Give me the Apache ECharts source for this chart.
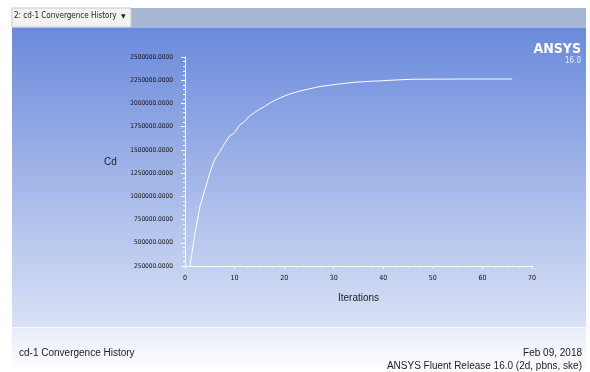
<!DOCTYPE html>
<html>
<head>
<meta charset="utf-8">
<script src="https://cdn.jsdelivr.net/npm/echarts@6/dist/echarts.min.js"></script>
<style>
html,body{margin:0;padding:0;background:#fff;}
#c{width:590px;height:372px;}
</style>
</head>
<body>
<div id="c"></div>
<script>
// ---- data ----
const iterations = [1,2,3,4,5,6,7,8,9,10,11,12,13,14,15,16,17,18,19,20,21,22,23,24,25,26,27,28,29,30,31,32,33,34,35,36,37,38,39,40,41,42,43,44,45,46,47,48,49,50,51,52,53,54,55,56,57,58,59,60,61,62,63,64,65,66];
const cdValues = [250000,600000,890000,1070000,1250000,1400000,1480000,1570000,1650000,1685000,
  1765000,1805000,1865000,1900000,1937000,1965000,2000000,2030000,2055000,2078000,
  2099000,2115000,2131000,2144000,2156000,2168000,2180000,2188000,2195000,2202000,
  2209000,2215000,2220000,2226000,2231000,2234000,2237000,2240000,2242000,2245000,
  2248000,2251000,2254000,2256000,2258000,2260000,2261000,2261000,2261000,2262000,
  2262000,2262000,2262000,2262000,2263000,2263000,2263000,2263000,2263000,2263000,
  2263000,2263000,2263000,2263000,2263000,2263000];
const xTicks = [0,10,20,30,40,50,60,70];
const yMin = 250000, yMax = 2500000, yStep = 250000;
const tabTitle = '2: cd-1 Convergence History';
const footerLeft = 'cd-1 Convergence History';
const footerDate = 'Feb 09, 2018';
const footerRelease = 'ANSYS Fluent Release 16.0 (2d, pbns, ske)';

const chart = echarts.init(document.getElementById('c'), null, {renderer:'canvas'});
const seriesData = iterations.map((it,i)=>[it, cdValues[i]]);

chart.setOption({
  animation:false,
  backgroundColor:'#ffffff',
  graphic:[
    // header bar
    {type:'rect', z:-10, shape:{x:12,y:8,width:574,height:20}, style:{fill:'#a6b8d4'}},
    // tab
    {type:'rect', z:-9, shape:{x:12,y:8,width:119,height:19}, style:{fill:'#f3f3f3', stroke:'#c9c9c9', lineWidth:1}},
    {type:'text', z:-8, left:14, top:12, style:{text:tabTitle, font:'8px "DejaVu Sans Condensed","Liberation Sans Narrow","Liberation Sans"', fill:'#222'}},
    {type:'text', z:-8, left:121, top:13, style:{text:'\u25BC', font:'6px "DejaVu Sans"', fill:'#222'}},
    // blue panel
    {type:'rect', z:-10, shape:{x:12,y:28,width:574,height:299},
      style:{fill:new echarts.graphic.LinearGradient(0,0,0,1,[{offset:0,color:'#6a8adb'},{offset:1,color:'#d9e1f5'}])}},
    {type:'rect', z:-10, shape:{x:12,y:327,width:574,height:1}, style:{fill:'#f6f8fd'}},
    // footer
    {type:'rect', z:-10, shape:{x:12,y:328,width:574,height:44},
      style:{fill:new echarts.graphic.LinearGradient(0,0,0,1,[{offset:0,color:'#e6ecf8'},{offset:1,color:'#ffffff'}])}},
    {type:'text', z:-8, left:19, top:348, style:{text:footerLeft, font:'10px "Liberation Sans"', fill:'#222'}},
    {type:'text', z:-8, right:8, top:348, style:{text:footerDate, font:'10px "Liberation Sans"', fill:'#222', align:'right'}},
    {type:'text', z:-8, right:8, top:361, style:{text:footerRelease, font:'10px "Liberation Sans"', fill:'#222', align:'right'}},
    // logo
    {type:'text', z:-8, right:9, top:42, style:{text:'ANSYS', font:'bold 14px "Liberation Sans Narrow","DejaVu Sans Condensed","Liberation Sans"', fill:'#ffffff', align:'right'}},
    {type:'text', z:-8, right:9, top:57, style:{text:'16.0', font:'8px "Liberation Sans Narrow","DejaVu Sans Condensed","Liberation Sans"', fill:'#eef2fb', align:'right'}},
    // y name
    {type:'text', z:-8, left:104, top:157, style:{text:'Cd', font:'10px "Liberation Sans"', fill:'#222'}}
  ],
  grid:{left:185, right:58, top:57, bottom:106, containLabel:false},
  xAxis:{
    type:'value', min:0, max:70, interval:10,
    name:'Iterations', nameLocation:'middle', nameGap:27,
    nameTextStyle:{color:'#222', fontSize:10, fontFamily:'Liberation Sans'},
    axisLine:{show:true, lineStyle:{color:'#ffffff', width:1}},
    axisTick:{show:true, length:3, lineStyle:{color:'#ffffff'}},
    minorTick:{show:true, splitNumber:4, length:2, lineStyle:{color:'#ffffff'}},
    axisLabel:{color:'#111', fontSize:7, fontFamily:'Liberation Sans Narrow, DejaVu Sans Condensed, Liberation Sans', margin:9,
      formatter:v=> xTicks.includes(v) ? String(v) : ''},
    splitLine:{show:false}
  },
  yAxis:{
    type:'value', min:yMin, max:yMax, interval:yStep,
    axisLine:{show:true, lineStyle:{color:'#ffffff', width:1}},
    axisTick:{show:true, length:4, lineStyle:{color:'#ffffff'}},
    minorTick:{show:true, splitNumber:5, length:2, lineStyle:{color:'#ffffff'}},
    axisLabel:{color:'#111', fontSize:6.5, fontFamily:'Liberation Sans Narrow, DejaVu Sans Condensed, Liberation Sans', margin:12,
      formatter:v=> v.toFixed(4)},
    splitLine:{show:false}
  },
  series:[{
    type:'line', data:seriesData, showSymbol:false, symbol:'none',
    lineStyle:{color:'#ffffff', width:1}, clip:true
  }]
});
</script>
</body>
</html>
